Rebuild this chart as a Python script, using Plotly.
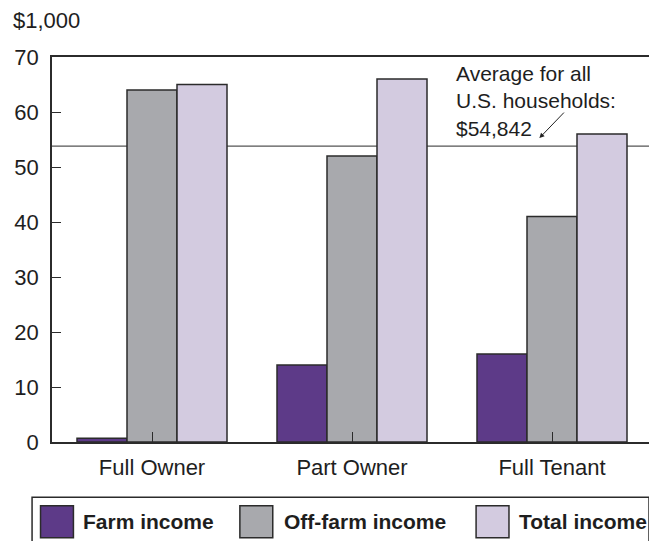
import plotly.graph_objects as go

categories = ["Full Owner", "Part Owner", "Full Tenant"]
series_names = ["Farm income", "Off-farm income", "Total income"]
farm_income = [0.7, 14, 16]
off_farm_income = [64, 52, 41]
total_income = [65, 66, 56]
us_average = 53.8
avg_label = "Average for all<br>U.S. households:<br>$54,842"
y_unit = "$1,000"
y_ticks = [0, 10, 20, 30, 40, 50, 60, 70]

colors = ["#5d3a88", "#a8a9ad", "#d3cbe0"]
edge = "#2b2b2b"
FONT = "Liberation Sans, Arial, sans-serif"

# page is rendered with an 8px body margin; compensate so the plot sits where the reference has it
OFF = 8
W, H = 657 - OFF, 541 - OFF
PL, PR, PT, PB = 52, 654, 57, 441.7   # plot area in page pixels
L, R, T = PL - OFF, W - (PR - OFF), PT - OFF
B = H - (PB - OFF)


def px(x):
    return (x - PL) / (PR - PL)


def py(y):
    return (PB - y) / (PB - PT)


fig = go.Figure()
for name, vals, col in zip(series_names, [farm_income, off_farm_income, total_income], colors):
    fig.add_trace(go.Bar(
        x=categories, y=vals, name=name, marker=dict(color=col, line=dict(color=edge, width=1.5)),
        showlegend=False,
    ))

shapes = [
    dict(type="line", xref="paper", yref="y", x0=0, x1=1, y0=us_average, y1=us_average,
         line=dict(color="#555555", width=1.3), layer="below"),
]
annotations = [
    dict(text=y_unit, xref="paper", yref="paper", x=px(11), y=py(21), xanchor="left", yanchor="middle",
         showarrow=False, font=dict(size=22, color="#1e1e1e", family=FONT)),
    dict(text=avg_label, xref="paper", yref="paper", x=px(455), y=py(60), xanchor="left", yanchor="top",
         align="left", showarrow=False, font=dict(size=21, color="#1e1e1e", family=FONT)),
    dict(text="", xref="paper", yref="paper", x=px(541), y=py(138), ax=26, ay=-27, axref="pixel", ayref="pixel",
         showarrow=True, arrowhead=2, arrowsize=1, arrowwidth=1, arrowcolor="#222"),
]

# manual legend
shapes.append(dict(type="rect", xref="paper", yref="paper", x0=px(32), x1=px(651), y0=py(497), y1=py(560),
                   line=dict(color=edge, width=1.5), fillcolor="rgba(0,0,0,0)"))
sw = [(40.5, 81), (240.5, 283), (477.5, 518.5)]
for (sx, tx), name, col in zip(sw, series_names, colors):
    shapes.append(dict(type="rect", xref="paper", yref="paper", x0=px(sx), x1=px(sx + 33),
                       y0=py(505.5), y1=py(537.5), line=dict(color=edge, width=1.5), fillcolor=col))
    annotations.append(dict(text="<b>" + name + "</b>", xref="paper", yref="paper", x=px(tx), y=py(521),
                            xanchor="left", yanchor="middle", showarrow=False,
                            font=dict(size=21, color="#1e1e1e", family=FONT)))

fig.update_layout(
    width=W, height=H, margin=dict(l=L, r=R, t=T, b=B, pad=0),
    paper_bgcolor="white", plot_bgcolor="white",
    barmode="group", bargap=0.25, bargroupgap=0,
    font=dict(family=FONT, size=22, color="#1e1e1e"),
    shapes=shapes, annotations=annotations,
    xaxis=dict(showline=True, linecolor=edge, linewidth=1.5, mirror=True, ticks="inside", ticklen=10,
               tickcolor=edge, tickwidth=1.3, showgrid=False, tickfont=dict(size=22), ticklabelstandoff=5),
    yaxis=dict(range=[0, 70], tickvals=y_ticks, showline=True, linecolor=edge, linewidth=1.5, mirror=True,
               ticks="inside", ticklen=9, tickcolor=edge, tickwidth=1.3, showgrid=False, zeroline=False,
               tickfont=dict(size=22), ticklabelstandoff=7),
)
fig.write_html("out.html")
